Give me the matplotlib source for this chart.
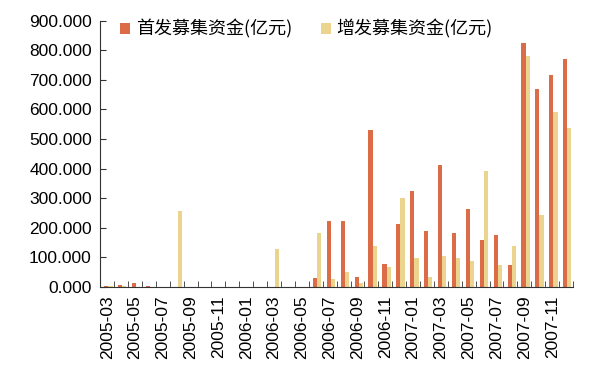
import numpy as np
import matplotlib.pyplot as plt

plt.rcParams['font.family'] = ['Liberation Sans', 'Noto Sans CJK SC', 'DejaVu Sans']

months = ['2005-03', '2005-04', '2005-05', '2005-06', '2005-07', '2005-08',
          '2005-09', '2005-10', '2005-11', '2005-12', '2006-01', '2006-02',
          '2006-03', '2006-04', '2006-05', '2006-06', '2006-07', '2006-08',
          '2006-09', '2006-10', '2006-11', '2006-12', '2007-01', '2007-02',
          '2007-03', '2007-04', '2007-05', '2007-06', '2007-07', '2007-08',
          '2007-09', '2007-10', '2007-11', '2007-12']

# 首发募集资金(亿元)
ipo = [3, 7, 12, 2, 0, 0, 0, 0, 0, 0, 0, 0,
       0, 0, 0, 30, 222, 222, 32, 530, 77, 213, 324, 190,
       411, 181, 262, 159, 176, 75, 824, 668, 716, 771]
# 增发募集资金(亿元)
seo = [2, 2, 0, 0, 0, 255, 0, 0, 0, 0, 0, 0,
       128, 0, 0, 182, 28, 49, 12, 137, 66, 299, 97, 34,
       103, 96, 88, 391, 74, 137, 781, 244, 592, 538]

red = '#DC6B47'
yellow = '#EBD48E'

fig = plt.figure(figsize=(6, 3.82), dpi=100)
ax = fig.add_axes([0.167, 0.249, 0.788, 0.697])

x = np.arange(len(months))
w = 0.3
ax.bar(x - 0.06, ipo, w, color=red, label='首发募集资金(亿元)')
ax.bar(x + 0.24, seo, w, color=yellow, label='增发募集资金(亿元)')

ax.set_xlim(-0.5, len(months) - 0.5)
ax.set_ylim(0, 900)
ax.set_yticks(np.arange(0, 901, 100))
ax.set_yticklabels(['%.3f' % v for v in np.arange(0, 901, 100)], fontsize=12.5)

ax.set_xticks(x[::2])
ax.set_xticklabels(months[::2], rotation=90, fontsize=12.5)
ax.set_xticks(np.arange(-0.5, len(months), 1), minor=True)
ax.tick_params(axis='x', which='major', length=0, pad=6)
ax.tick_params(axis='x', which='minor', direction='in', length=4, color='#333333')
ax.tick_params(axis='y', direction='in', length=4, color='#333333', pad=6)

for s in ['top', 'right']:
    ax.spines[s].set_visible(False)
for s in ['left', 'bottom']:
    ax.spines[s].set_color('#333333')

ax.legend(loc='upper center', bbox_to_anchor=(0.436, 1.065), ncol=2, frameon=False,
          prop={'family': ['Noto Sans CJK SC', 'DejaVu Sans'], 'size': 13},
          handlelength=0.55, handleheight=0.55, handletextpad=0.3, columnspacing=1.6)

fig.savefig('out.png', dpi=100)
